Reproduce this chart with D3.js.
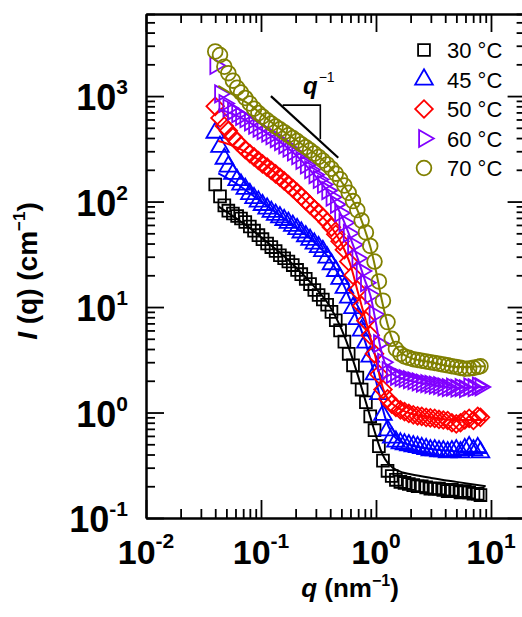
<!DOCTYPE html>
<html>
<head>
<meta charset="utf-8">
<script src="https://cdn.jsdelivr.net/npm/d3@7"></script>
<style>
  body { margin: 0; background: #fff; }
  svg { display: block; font-family: "Liberation Sans", Arial, sans-serif; }
</style>
</head>
<body>
<div id="chart"></div>
<script>
// scattering vector q (nm^-1) shared by all measured curves
const qValues = [0.040, 0.044, 0.048, 0.052, 0.057, 0.062, 0.067, 0.073, 0.080, 0.087,
    0.095, 0.103, 0.113, 0.123, 0.134, 0.146, 0.159, 0.173, 0.189, 0.206,
    0.224, 0.245, 0.267, 0.291, 0.317, 0.345, 0.376, 0.410, 0.447, 0.487,
    0.531, 0.579, 0.631, 0.688, 0.750, 0.817, 0.891, 0.971, 1.06, 1.15,
    1.26, 1.37, 1.49, 1.63, 1.77, 1.93, 2.11, 2.30, 2.50, 2.73,
    2.97, 3.24, 3.53, 3.85, 4.20, 4.57, 4.99, 5.43, 5.92, 6.46,
    7.04, 7.67, 8.10];

const temps = ['30 °C', '45 °C', '50 °C', '60 °C', '70 °C'];

// measured intensity I(q) (cm^-1)
const i30 = [145, 112, 92, 82, 77, 73, 69, 64, 58, 53,
    48, 44, 40, 37, 34, 31, 29, 27, 25, 22.5,
    20.5, 18.5, 16.5, 14.5, 13.0, 11.8, 10.5, 9.0, 7.5, 6.0,
    4.7, 3.6, 2.8, 2.15, 1.65, 1.25, 0.92, 0.68, 0.48, 0.35,
    0.28, 0.25, 0.23, 0.22, 0.215, 0.21, 0.205, 0.20, 0.20, 0.195,
    0.19, 0.19, 0.19, 0.185, 0.18, 0.185, 0.18, 0.175, 0.18, 0.175,
    0.17, 0.17, 0.165];
const i45 = [450, 330, 255, 215, 183, 160, 145, 132, 118, 108,
    100, 93, 86, 80, 75, 71, 67, 63, 59, 55,
    51, 47, 43.5, 40, 37, 34, 29.5, 25.5, 22, 18.5,
    15.2, 12.3, 9.8, 7.7, 6.0, 4.6, 3.4, 2.3, 1.5, 0.95,
    0.68, 0.58, 0.53, 0.51, 0.50, 0.49, 0.48, 0.47, 0.46, 0.45,
    0.44, 0.44, 0.43, 0.43, 0.42, 0.43, 0.44, 0.42, 0.45, 0.47,
    0.44, 0.46, 0.42];
const i50 = [800, 620, 520, 470, 410, 370, 340, 310, 285, 265,
    245, 228, 212, 197, 183, 170, 157, 145, 133, 122,
    112, 102, 93, 85, 78, 71, 64, 57, 49, 42,
    35, 27, 20, 14.5, 10.3, 7.4, 5.4, 3.6, 2.3, 1.65,
    1.35, 1.2, 1.12, 1.06, 1.02, 0.98, 0.95, 0.93, 0.92, 0.90,
    0.89, 0.88, 0.86, 0.85, 0.84, 0.80, 0.78, 0.80, 0.85, 0.88,
    0.84, 0.92, 0.90];
const i60 = [1950, 1050, 850, 770, 720, 680, 640, 610, 570, 530,
    495, 470, 445, 420, 395, 370, 345, 320, 295, 272,
    245, 222, 200, 180, 162, 145, 127, 110, 94, 78,
    63, 50, 39, 29, 22, 17, 13, 8.5, 4.5, 3.0,
    2.5, 2.3, 2.2, 2.15, 2.1, 2.05, 2.0, 1.95, 1.9, 1.88,
    1.85, 1.82, 1.8, 1.75, 1.72, 1.74, 1.70, 1.72, 1.68, 1.75,
    1.72, 1.78, 1.75];
const i70 = [2650, 2450, 1900, 1650, 1400, 1200, 1080, 960, 850, 760,
    690, 640, 590, 550, 515, 485, 455, 425, 400, 375,
    350, 328, 306, 285, 265, 245, 225, 205, 184, 163,
    142, 121, 101, 83, 66, 51, 38, 27, 17.5, 11.5,
    7.2, 5.0, 4.0, 3.6, 3.4, 3.3, 3.2, 3.15, 3.1, 3.05,
    3.0, 2.95, 2.9, 2.85, 2.8, 2.75, 2.7, 2.65, 2.6, 2.62,
    2.65, 2.7, 2.75];

// model fit curves
const fitQ = [0.0425, 0.06, 0.08, 0.1, 0.15, 0.2, 0.3, 0.4, 0.5, 0.6, 0.7,
    0.8, 0.9, 1.0, 1.1, 1.2, 1.4, 1.7, 2, 3, 5, 9];
const fit30 = [90, 70, 56, 46, 32, 24, 15, 10, 6.2, 3.7, 2.2,
    1.35, 0.88, 0.6, 0.44, 0.36, 0.3, 0.27, 0.26, 0.24, 0.22, 0.2];
const fit45 = [185, 150, 120, 100, 72, 57, 40, 28, 18, 11.5, 7.3,
    4.8, 3.1, 2.0, 1.3, 0.9, 0.62, 0.52, 0.49, 0.45, 0.43, 0.42];
const fit50 = [375, 330, 280, 240, 168, 127, 82, 59, 40, 25, 13.5,
    8, 5, 3.2, 2.0, 1.5, 1.2, 1.05, 0.98, 0.9, 0.85, 0.85];
const fit60 = [750, 660, 560, 480, 360, 278, 172, 115, 74, 45, 28,
    18, 12.5, 7, 4, 2.9, 2.3, 2.1, 2.0, 1.85, 1.72, 1.75];
const fit70 = [1250, 1000, 830, 680, 480, 385, 280, 212, 155, 112, 80,
    54, 36, 22, 13, 8.5, 4.8, 3.6, 3.3, 3.0, 2.7, 2.75];

// q^-1 guide triangle (data units)
const slopeQ = [0.122, 0.47];
const slopeI = [1000, 260];
const triQ = [0.1545, 0.328];
const triI = [820, 389];
const slopeLabelQ = 0.232;

const xDomain = [0.01, 20];
const yDomain = [0.1, 6000];
const xMajor = [0.01, 0.1, 1, 10];
const yMajor = [0.1, 1, 10, 100, 1000];
const xExp = ['-2', '-1', '0', '1'];
const yExp = ['-1', '0', '1', '2', '3'];

// styles
const colors = ['#000000', '#0000ff', '#ff0000', '#8000ff', '#808000'];
const width = 522, height = 617;
const plot = { left: 146, right: 525.6, top: 14, bottom: 518 };

const x = d3.scaleLog().domain(xDomain).range([plot.left, plot.right]);
const y = d3.scaleLog().domain(yDomain).range([plot.bottom, plot.top]);

const svg = d3.select('#chart')
    .append('svg')
    .attr('width', width)
    .attr('height', height);

svg.append('rect').attr('width', width).attr('height', height).attr('fill', '#fff');

// axes: major and minor ticks, all pointing inward
const isMajor = v => Math.abs(Math.log10(v) - Math.round(Math.log10(v))) < 1e-6;
const xMinor = x.ticks().filter(v => !isMajor(v));
const yMinor = y.ticks().filter(v => !isMajor(v));

function drawAxis(axisFn, scale, majors, minors, tx, ty) {
    [[majors, -18], [minors, -9]].forEach(([vals, size]) => {
        const g = svg.append('g')
            .attr('transform', `translate(${tx},${ty})`)
            .call(axisFn(scale).tickValues(vals).tickSize(size).tickSizeOuter(0).tickFormat(''));
        g.select('.domain').attr('stroke-width', 2);
        g.selectAll('.tick line').attr('stroke-width', 1.8);
    });
}
drawAxis(d3.axisBottom, x, xMajor, xMinor, 0, plot.bottom);
drawAxis(d3.axisTop, x, xMajor, xMinor, 0, plot.top);
drawAxis(d3.axisLeft, y, yMajor, yMinor, plot.left, 0);
drawAxis(d3.axisRight, y, yMajor, yMinor, plot.right, 0);

// tick labels with superscript exponents
const yLab = svg.append('g').selectAll('text')
    .data(yMajor)
    .join('text')
    .attr('x', 128)
    .attr('y', d => y(d) + 14)
    .attr('text-anchor', 'end')
    .attr('font-size', 36)
    .attr('font-weight', 'bold');
yLab.append('tspan').text('10');
yLab.append('tspan').attr('dy', -16).attr('font-size', 21).text((d, i) => yExp[i]);

const xLab = svg.append('g').selectAll('text')
    .data(xMajor)
    .join('text')
    .attr('x', d => x(d))
    .attr('y', 564)
    .attr('text-anchor', 'middle')
    .attr('font-size', 34)
    .attr('font-weight', 'bold');
xLab.append('tspan').text('10');
xLab.append('tspan').attr('dy', -16).attr('font-size', 21).text((d, i) => xExp[i]);

// axis titles
const xt = svg.append('text')
    .attr('x', 350)
    .attr('y', 597)
    .attr('text-anchor', 'middle')
    .attr('font-size', 26)
    .attr('font-weight', 'bold');
xt.append('tspan').attr('font-style', 'italic').text('q');
xt.append('tspan').text(' (nm');
xt.append('tspan').attr('dy', -11).attr('font-size', 16).text('−1');
xt.append('tspan').attr('dy', 11).text(')');

const yt = svg.append('text')
    .attr('transform', 'translate(37,271) rotate(-90)')
    .attr('text-anchor', 'middle')
    .attr('font-size', 28)
    .attr('font-weight', 'bold');
yt.append('tspan').attr('font-style', 'italic').text('I');
yt.append('tspan').text(' (q) (cm');
yt.append('tspan').attr('dy', -12).attr('font-size', 17).text('−1');
yt.append('tspan').attr('dy', 12).text(')');

// marker shapes
const markers = [
    { type: d3.symbolSquare, size: 140, rotate: 0 },
    { type: d3.symbolTriangle, size: 135, rotate: 0 },
    { type: d3.symbolSquare, size: 155, rotate: 45 },
    { type: d3.symbolTriangle, size: 125, rotate: 90 },
    { type: d3.symbolCircle, size: 170, rotate: 0 }
];
const measured = [i30, i45, i50, i60, i70];
const fits = [fit30, fit45, fit50, fit60, fit70];

const line = d3.line()
    .x(d => x(d[0]))
    .y(d => y(d[1]))
    .curve(d3.curveMonotoneX);

const dataG = svg.append('g');
measured.forEach((vals, k) => {
    const m = markers[k];
    dataG.append('g')
        .selectAll('path')
        .data(qValues.map((q, i) => [q, vals[i]]))
        .join('path')
        .attr('transform', d => `translate(${x(d[0])},${y(d[1])}) rotate(${m.rotate})`)
        .attr('d', d3.symbol(m.type, m.size)())
        .attr('fill', 'none')
        .attr('stroke', colors[k])
        .attr('stroke-width', 1.8);
    dataG.append('path')
        .datum(fitQ.map((q, i) => [q, fits[k][i]]))
        .attr('d', line)
        .attr('fill', 'none')
        .attr('stroke', colors[k])
        .attr('stroke-width', 2);
});

// q^-1 guide
svg.append('line')
    .attr('x1', x(slopeQ[0])).attr('y1', y(slopeI[0]))
    .attr('x2', x(slopeQ[1])).attr('y2', y(slopeI[1]))
    .attr('stroke', '#000').attr('stroke-width', 2.2);
svg.append('path')
    .attr('d', `M${x(triQ[0])},${y(triI[0])}H${x(triQ[1])}V${y(triI[1])}`)
    .attr('fill', 'none').attr('stroke', '#000').attr('stroke-width', 1.6);
const sl = svg.append('text')
    .attr('x', x(slopeLabelQ))
    .attr('y', 94)
    .attr('font-size', 24)
    .attr('font-weight', 'bold');
sl.append('tspan').attr('font-style', 'italic').text('q');
sl.append('tspan').attr('dy', -12).attr('dx', 1).attr('font-size', 14).attr('font-weight', 'normal').text('−1');

// legend
const legend = svg.append('g').attr('transform', 'translate(424,50)');
const item = legend.selectAll('g')
    .data(temps)
    .join('g')
    .attr('transform', (d, i) => `translate(0,${i * 29.5})`);
item.append('path')
    .attr('transform', (d, i) => `rotate(${markers[i].rotate})`)
    .attr('d', (d, i) => d3.symbol(markers[i].type, markers[i].size)())
    .attr('fill', 'none')
    .attr('stroke', (d, i) => colors[i])
    .attr('stroke-width', 1.8);
item.append('text')
    .attr('x', 23)
    .attr('y', 8)
    .attr('font-size', 22)
    .text(d => d);
</script>
</body>
</html>
